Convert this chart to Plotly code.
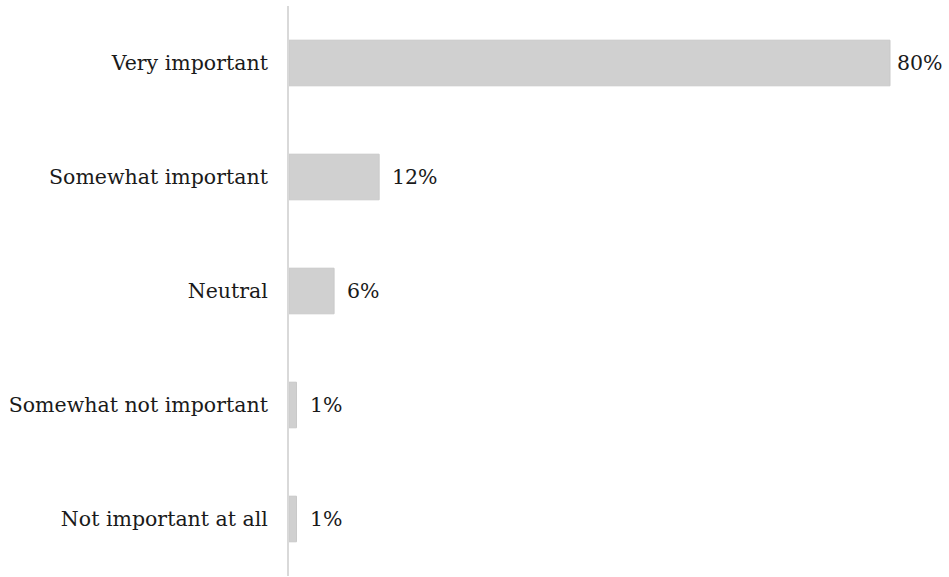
import plotly.graph_objects as go

# Survey responses: importance rating
categories = [
    "Very important",
    "Somewhat important",
    "Neutral",
    "Somewhat not important",
    "Not important at all",
]
shares = [80, 12, 6, 1, 1]
labels = [f"{v}%" for v in shares]

FONT = "DejaVu Serif"
SIZE = 20.5

fig = go.Figure(
    go.Bar(
        x=shares,
        y=categories,
        orientation="h",
        marker=dict(color="#d0d0d0", line=dict(color="#c9c9c9", width=1)),
        width=0.4,
    )
)

# Value labels placed just beyond each bar end
for cat, v, lab in zip(categories, shares, labels):
    fig.add_annotation(
        x=v, y=cat, text=lab, showarrow=False,
        xanchor="left", xshift=5 if v >= 50 else 11,
        font=dict(family=FONT, size=SIZE, color="#1a1a1a"),
    )

fig.update_layout(
    width=949,
    height=577,
    margin=dict(l=289, r=0, t=6, b=1),
    paper_bgcolor="white",
    plot_bgcolor="white",
    showlegend=False,
    font=dict(family=FONT, size=SIZE, color="#1a1a1a"),
)
fig.update_xaxes(
    range=[0, 80 * 660 / 601],
    visible=False,
    showgrid=False,
    zeroline=False,
)
fig.update_yaxes(
    autorange="reversed",
    showgrid=False,
    zeroline=False,
    showline=True,
    linecolor="#d9d9d9",
    linewidth=2,
    ticks="",
    ticklabelstandoff=15,
    tickfont=dict(family=FONT, size=SIZE, color="#1a1a1a"),
)

fig.write_html("out.html")
